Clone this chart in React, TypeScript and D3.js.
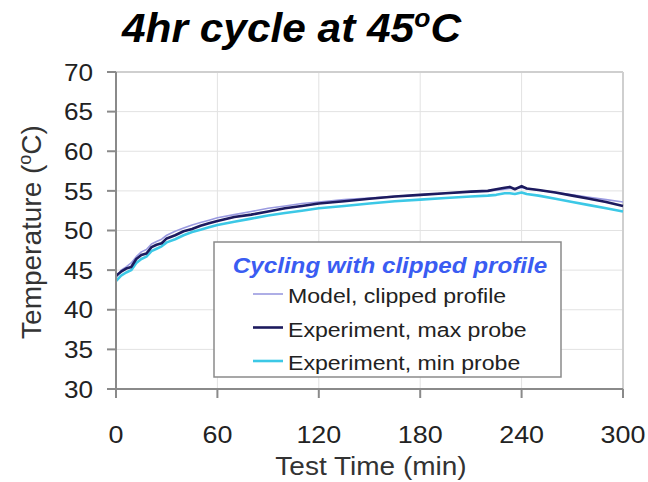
import React from "react";
import * as d3 from "d3";

const times = [0,3,6,9,12,15,18,21,24,27,30,35,40,45,50,55,60,70,80,90,100,110,120,135,150,165,180,195,210,220,225,230,233,236,240,243,250,260,270,280,290,300];
const maxProbe = [44.3,44.8,45.2,45.4,46.4,46.9,47.1,47.9,48.2,48.4,49.0,49.4,49.9,50.2,50.6,50.9,51.2,51.7,52.0,52.4,52.8,53.1,53.4,53.7,54.0,54.3,54.5,54.7,54.9,55.0,55.2,55.4,55.5,55.2,55.6,55.3,55.1,54.8,54.4,54.0,53.6,53.1];
const model = [44.0,45.0,45.4,45.9,46.7,47.3,47.6,48.3,48.6,48.9,49.4,49.9,50.3,50.7,51.0,51.3,51.6,52.0,52.4,52.8,53.1,53.4,53.6,53.9,54.1,54.3,54.5,54.7,54.9,55.0,55.1,55.2,55.3,55.3,55.4,55.3,55.1,54.8,54.5,54.2,53.9,53.6];
const minProbe = [43.6,44.3,44.7,45.0,45.9,46.4,46.7,47.4,47.7,48.0,48.5,48.9,49.4,49.8,50.1,50.4,50.7,51.1,51.5,51.9,52.2,52.5,52.8,53.1,53.4,53.7,53.9,54.1,54.3,54.4,54.5,54.7,54.7,54.6,54.8,54.6,54.4,54.0,53.6,53.2,52.8,52.4];

const xTicks = [0, 60, 120, 180, 240, 300];
const yTicks = [30, 35, 40, 45, 50, 55, 60, 65, 70];
const seriesNames = ["Model, clipped profile", "Experiment, max probe", "Experiment, min probe"];
const seriesColors = ["#9a9ae0", "#1c1a5e", "#3cc8e6"];
const seriesWidths = [1.6, 2.6, 2.6];

const FONT = "Arial, 'Liberation Sans', sans-serif";

function ST({ x, y, sx = 1.1, children, ...rest }: any) {
  return (
    <g transform={`translate(${x},${y}) scale(${sx},1)`}>
      <text x={0} y={0} {...rest}>{children}</text>
    </g>
  );
}

export default function App() {
  const W = 648, H = 482;
  const x = d3.scaleLinear().domain([0, 300]).range([116, 623]);
  const y = d3.scaleLinear().domain([30, 70]).range([389, 72]);
  const seriesData = [model, maxProbe, minProbe];
  const line = d3.line<number>().x((_, i) => x(times[i])).y((d) => y(d));
  const drawOrder = [2, 0, 1];

  return (
    <svg width={W} height={H} style={{ position: "absolute", left: 0, top: 0, background: "#fff" }} fontFamily={FONT}>
      <rect x={0} y={0} width={W} height={H} fill="#fff" />
      <ST x={122} y={42} sx={1.06} fontSize={40} fontWeight="bold" fontStyle="italic" fill="#000">
        4hr cycle at 45<tspan fontSize={25} dy={-15}>o</tspan><tspan dy={15}>C</tspan>
      </ST>
      {/* grid */}
      {yTicks.map((t) => (
        <line key={"gy" + t} x1={x(0)} x2={x(300)} y1={y(t)} y2={y(t)} stroke="#e2e2e2" strokeWidth={1} />
      ))}
      {xTicks.map((t) => (
        <line key={"gx" + t} x1={x(t)} x2={x(t)} y1={y(30)} y2={y(70)} stroke="#e2e2e2" strokeWidth={1} />
      ))}
      {/* frame */}
      <line x1={x(0)} x2={x(300)} y1={y(70)} y2={y(70)} stroke="#cfcfcf" strokeWidth={2} />
      <line x1={x(300)} x2={x(300)} y1={y(70)} y2={y(30)} stroke="#cfcfcf" strokeWidth={2} />
      {/* series */}
      {drawOrder.map((i) => (
        <path key={"s" + i} d={line(seriesData[i]) || ""} fill="none" stroke={seriesColors[i]} strokeWidth={seriesWidths[i]} strokeLinejoin="round" />
      ))}
      {/* axes */}
      <line x1={x(0)} x2={x(300)} y1={y(30)} y2={y(30)} stroke="#8a8a8a" strokeWidth={2} />
      <line x1={x(0)} x2={x(0)} y1={y(30)} y2={y(70)} stroke="#8a8a8a" strokeWidth={2} />
      {yTicks.map((t) => (
        <g key={"yt" + t}>
          <line x1={x(0) - 9} x2={x(0)} y1={y(t)} y2={y(t)} stroke="#8a8a8a" strokeWidth={2} />
          <ST x={93} y={y(t)} sx={1.09} dy="0.36em" textAnchor="end" fontSize={24} fill="#222">{t}</ST>
        </g>
      ))}
      {xTicks.map((t) => (
        <g key={"xt" + t}>
          <line x1={x(t)} x2={x(t)} y1={y(30)} y2={y(30) + 9} stroke="#8a8a8a" strokeWidth={2} />
          <ST x={x(t)} y={443} sx={1.12} textAnchor="middle" fontSize={24} fill="#222">{t}</ST>
        </g>
      ))}
      <ST x={371} y={475} sx={1.12} textAnchor="middle" fontSize={25} fill="#333">Test Time (min)</ST>
      <text transform="translate(41,232) rotate(-90)" textAnchor="middle" fontSize={28} fill="#333">
        Temperature (<tspan fontSize={18} dy={-10}>o</tspan><tspan dy={10}>C)</tspan>
      </text>
      {/* legend */}
      <rect x={214} y={242} width={347} height={135} fill="#fff" stroke="#8a8a8a" strokeWidth={1.5} />
      <ST x={390} y={273} sx={1.1} textAnchor="middle" fontSize={22} fontWeight="bold" fontStyle="italic" fill="#3a5cf2">Cycling with clipped profile</ST>
      {seriesNames.map((n, i) => (
        <g key={"lg" + i}>
          <line x1={253} x2={283} y1={294 + i * 33.5} y2={294 + i * 33.5} stroke={seriesColors[i]} strokeWidth={seriesWidths[i]} />
          <ST x={288} y={303 + i * 33.5} sx={1.1} fontSize={21} fill="#222">{n}</ST>
        </g>
      ))}
    </svg>
  );
}
